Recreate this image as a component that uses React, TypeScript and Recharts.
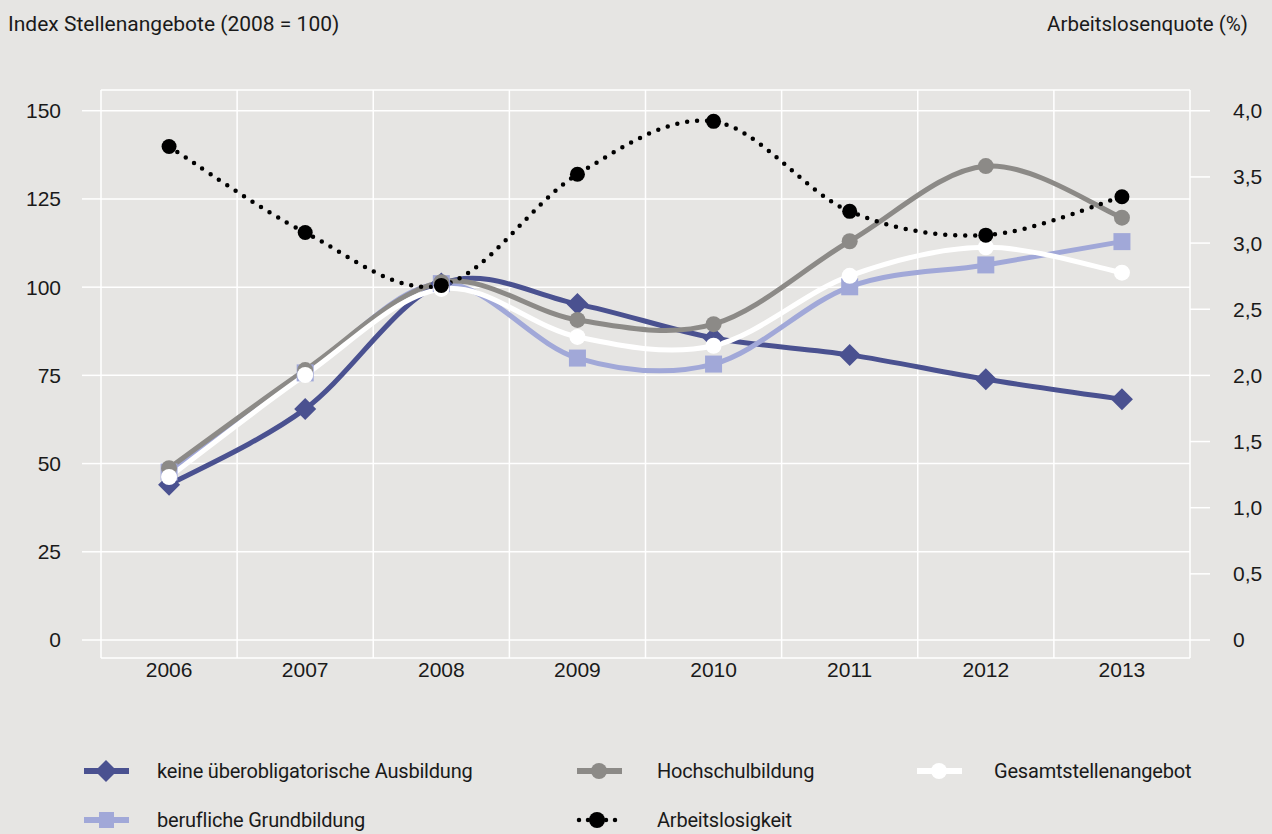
import {
  LineChart,
  Line,
  CartesianGrid,
  XAxis,
  YAxis,
} from "recharts";

const years = ["2006", "2007", "2008", "2009", "2010", "2011", "2012", "2013"];
const keineAusbildung = [44, 65.5, 101, 95.2, 85.6, 80.8, 73.9, 68.2];
const beruflicheGrundbildung = [47.6, 75.7, 101, 79.9, 78.2, 100.1, 106.3, 112.9];
const hochschulbildung = [48.7, 76.5, 101.4, 90.7, 89.5, 113, 134.3, 119.7];
const gesamtstellenangebot = [46.2, 75.1, 99.5, 85.9, 83.4, 103.2, 111.3, 104.1];
const arbeitslosigkeit = [3.73, 3.08, 2.68, 3.52, 3.92, 3.24, 3.06, 3.35];

const leftTicks = [0, 25, 50, 75, 100, 125, 150];
const rightTicks = [0, 0.5, 1, 1.5, 2, 2.5, 3, 3.5, 4];

const data = years.map((year, i) => ({
  year,
  keine: keineAusbildung[i],
  beruf: beruflicheGrundbildung[i],
  hoch: hochschulbildung[i],
  gesamt: gesamtstellenangebot[i],
  alq: arbeitslosigkeit[i],
}));

const BG = "#e6e5e3";
const DARK = "#4a5190";
const LIGHT = "#a1a8d8";
const GREY = "#8c8a87";
const TEXT = "#1a1a1a";
const NARROW = '"Roboto", sans-serif';
const SANS = '"Liberation Sans", Arial, sans-serif';

// plot area width / categories, used for half-band padding
const PLOT_W = 1272 - 101 - 82;
const HALF_BAND = PLOT_W / years.length / 2;

// Excel-style smoothed line (Catmull-Rom as bezier)
const smooth = (context: any) => {
  let pts: [number, number][] = [];
  return {
    areaStart() {},
    areaEnd() {},
    lineStart() {
      pts = [];
    },
    lineEnd() {
      const n = pts.length;
      if (!n) return;
      context.moveTo(pts[0][0], pts[0][1]);
      for (let i = 0; i < n - 1; i++) {
        const p0 = pts[Math.max(i - 1, 0)];
        const p1 = pts[i];
        const p2 = pts[i + 1];
        const p3 = pts[Math.min(i + 2, n - 1)];
        context.bezierCurveTo(
          p1[0] + (p2[0] - p0[0]) / 6,
          p1[1] + (p2[1] - p0[1]) / 6,
          p2[0] - (p3[0] - p1[0]) / 6,
          p2[1] - (p3[1] - p1[1]) / 6,
          p2[0],
          p2[1]
        );
      }
    },
    point(x: number, y: number) {
      pts.push([+x, +y]);
    },
  };
};

const Diamond = (props: any) => {
  const { cx, cy } = props;
  if (cx == null || cy == null) return null;
  return (
    <polygon
      points={`${cx},${cy - 11} ${cx + 11},${cy} ${cx},${cy + 11} ${cx - 11},${cy}`}
      fill={DARK}
    />
  );
};

const Square = (props: any) => {
  const { cx, cy } = props;
  if (cx == null || cy == null) return null;
  return <rect x={cx - 8.5} y={cy - 8.5} width={17} height={17} fill={LIGHT} />;
};

const Dot = (color: string, r: number) => (props: any) => {
  const { cx, cy } = props;
  if (cx == null || cy == null) return null;
  return <circle cx={cx} cy={cy} r={r} fill={color} />;
};

const fmtRight = (v: number) => (v === 0 ? "0" : v.toFixed(1).replace(".", ","));

function LegendIcon({ kind }: { kind: string }) {
  return (
    <svg width={48} height={24} style={{ display: "block" }}>
      {kind === "keine" && (
        <>
          <line x1={1} y1={12} x2={46} y2={12} stroke={DARK} strokeWidth={6} />
          <polygon points="23,1 34,12 23,23 12,12" fill={DARK} />
        </>
      )}
      {kind === "beruf" && (
        <>
          <line x1={1} y1={12} x2={46} y2={12} stroke={LIGHT} strokeWidth={6} />
          <rect x={16} y={4} width={15} height={16} fill={LIGHT} />
        </>
      )}
      {kind === "hoch" && (
        <>
          <line x1={1} y1={12} x2={46} y2={12} stroke={GREY} strokeWidth={6} />
          <circle cx={23} cy={12} r={8} fill={GREY} />
        </>
      )}
      {kind === "gesamt" && (
        <>
          <line x1={1} y1={12} x2={46} y2={12} stroke="#fff" strokeWidth={6} />
          <circle cx={23} cy={12} r={8} fill="#fff" />
        </>
      )}
      {kind === "alq" && (
        <>
          <line
            x1={3}
            y1={12}
            x2={46}
            y2={12}
            stroke="#000"
            strokeWidth={4.5}
            strokeLinecap="round"
            strokeDasharray="0 9"
          />
          <circle cx={21} cy={12} r={8} fill="#000" />
        </>
      )}
    </svg>
  );
}

const legendItems = [
  { kind: "keine", label: "keine überobligatorische Ausbildung", x: 83, y: 771, gap: 26 },
  { kind: "hoch", label: "Hochschulbildung", x: 576, y: 771, gap: 33 },
  { kind: "gesamt", label: "Gesamtstellenangebot", x: 916, y: 771, gap: 30 },
  { kind: "beruf", label: "berufliche Grundbildung", x: 83, y: 820, gap: 26 },
  { kind: "alq", label: "Arbeitslosigkeit", x: 576, y: 820, gap: 33 },
];

export default function App() {
  return (
    <div
      style={{
        position: "absolute",
        left: 0,
        top: 0,
        width: 1272,
        height: 834,
        background: BG,
        overflow: "hidden",
      }}
    >
      <div
        style={{
          position: "absolute",
          left: 8,
          top: 12,
          fontFamily: NARROW,
          fontSize: 21,
          color: TEXT,
          whiteSpace: "nowrap",
        }}
      >
        Index Stellenangebote (2008 = 100)
      </div>
      <div
        style={{
          position: "absolute",
          right: 24,
          top: 12,
          fontFamily: NARROW,
          fontSize: 20.5,
          color: TEXT,
          whiteSpace: "nowrap",
        }}
      >
        Arbeitslosenquote (%)
      </div>
      <LineChart
        width={1272}
        height={834}
        data={data}
        margin={{ top: 90, right: 0, bottom: 146, left: 0 }}
        style={{ position: "absolute", left: 0, top: 0 }}
      >
        <CartesianGrid
          yAxisId="left"
          stroke="#fff"
          strokeWidth={1.5}
          verticalCoordinatesGenerator={({ offset }: any) =>
            years
              .map((_, i) => offset.left + (i * offset.width) / years.length)
              .concat([offset.left + offset.width])
          }
        />
        <XAxis
          dataKey="year"
          axisLine={false}
          tickLine={false}
          tickSize={0}
          tickMargin={4}
          height={30}
          padding={{ left: HALF_BAND, right: HALF_BAND }}
          tick={{ fill: TEXT, fontSize: 21, fontFamily: SANS }}
        />
        <YAxis
          yAxisId="left"
          orientation="left"
          width={101}
          domain={[-5.1, 155.87]}
          ticks={leftTicks}
          axisLine={false}
          tickSize={19}
          tickMargin={21}
          tickLine={{ stroke: "#fff", strokeWidth: 1.5 }}
          tick={{ fill: TEXT, fontSize: 21, fontFamily: SANS }}
        />
        <YAxis
          yAxisId="right"
          orientation="right"
          width={82}
          domain={[-0.136, 4.157]}
          ticks={rightTicks}
          tickFormatter={fmtRight}
          axisLine={false}
          tickSize={20}
          tickMargin={23}
          tickLine={{ stroke: "#fff", strokeWidth: 1.5 }}
          tick={{ fill: TEXT, fontSize: 21, fontFamily: SANS, textAnchor: "start" }}
        />
        <Line
          yAxisId="left"
          dataKey="keine"
          type={smooth as any}
          stroke={DARK}
          strokeWidth={5}
          dot={Diamond}
          activeDot={false}
          isAnimationActive={false}
        />
        <Line
          yAxisId="left"
          dataKey="beruf"
          type={smooth as any}
          stroke={LIGHT}
          strokeWidth={5}
          dot={Square}
          activeDot={false}
          isAnimationActive={false}
        />
        <Line
          yAxisId="left"
          dataKey="hoch"
          type={smooth as any}
          stroke={GREY}
          strokeWidth={5}
          dot={Dot(GREY, 8)}
          activeDot={false}
          isAnimationActive={false}
        />
        <Line
          yAxisId="left"
          dataKey="gesamt"
          type={smooth as any}
          stroke="#fff"
          strokeWidth={5}
          dot={Dot("#fff", 8)}
          activeDot={false}
          isAnimationActive={false}
        />
        <Line
          yAxisId="right"
          dataKey="alq"
          type={smooth as any}
          stroke="#000"
          strokeWidth={4.5}
          strokeLinecap="round"
          strokeDasharray="0 10"
          dot={Dot("#000", 7.5)}
          activeDot={false}
          isAnimationActive={false}
        />
      </LineChart>
      {legendItems.map((item) => (
        <div
          key={item.kind}
          style={{
            position: "absolute",
            left: item.x,
            top: item.y - 12,
            height: 24,
            display: "flex",
            alignItems: "center",
            fontFamily: NARROW,
            fontSize: 20,
            letterSpacing: -0.2,
            color: TEXT,
            whiteSpace: "nowrap",
          }}
        >
          <LegendIcon kind={item.kind} />
          <span style={{ marginLeft: item.gap }}>{item.label}</span>
        </div>
      ))}
    </div>
  );
}
